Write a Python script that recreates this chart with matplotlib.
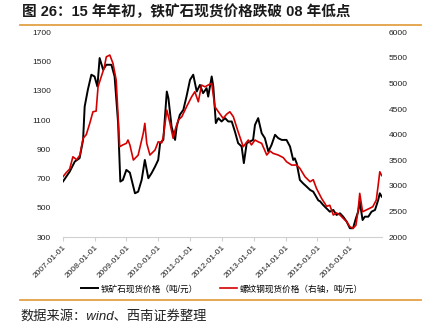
import matplotlib
matplotlib.use('Agg')
import matplotlib.pyplot as plt
from matplotlib.lines import Line2D

# ---------------- data ----------------
iron_t = [2007.01, 2007.22, 2007.38, 2007.53, 2007.64, 2007.69, 2007.79, 2007.90, 2008.00, 2008.09,
          2008.16, 2008.27, 2008.37, 2008.53, 2008.63, 2008.74, 2008.81, 2008.89, 2009.00, 2009.11,
          2009.27, 2009.37, 2009.48, 2009.58, 2009.69, 2009.79, 2009.90, 2010.00, 2010.06, 2010.16,
          2010.27, 2010.32, 2010.42, 2010.53, 2010.58, 2010.68, 2010.79, 2010.89, 2011.00, 2011.10,
          2011.21, 2011.31, 2011.41, 2011.52, 2011.57, 2011.68, 2011.73, 2011.81, 2011.89, 2011.99,
          2012.10, 2012.20, 2012.31, 2012.41, 2012.51, 2012.62, 2012.69, 2012.78, 2012.88, 2012.98,
          2013.04, 2013.14, 2013.25, 2013.35, 2013.46, 2013.56, 2013.67, 2013.77, 2013.88, 2014.03,
          2014.14, 2014.24, 2014.29, 2014.35, 2014.45, 2014.55, 2014.66, 2014.77, 2014.87, 2015.03,
          2015.08, 2015.18, 2015.29, 2015.39, 2015.50, 2015.60, 2015.71, 2015.81, 2015.92, 2016.02,
          2016.12, 2016.21, 2016.28, 2016.33, 2016.42, 2016.49, 2016.60, 2016.70, 2016.81, 2016.91,
          2016.96, 2017.02]
iron_v = [680, 747, 816, 839, 964, 1192, 1307, 1410, 1398, 1329,
          1524, 1444, 1478, 1478, 1398, 1081, 679, 690, 759, 740,
          599, 610, 690, 827, 702, 736, 781, 827, 942, 964,
          1295, 1250, 1055, 964, 1055, 1136, 1170, 1262, 1375, 1410,
          1295, 1340, 1284, 1318, 1260, 1398, 1330, 1079, 1113, 1090,
          1113, 1090, 1090, 1021, 942, 919, 805, 942, 953, 964,
          1067, 1113, 1010, 976, 884, 930, 999, 976, 964, 964,
          919, 827, 838, 804, 690, 667, 645, 622, 610, 550,
          545, 519, 495, 473, 485, 451, 462, 439, 405, 360,
          360, 428, 473, 542, 416, 439, 439, 473, 485, 553,
          599, 576]

rebar_t = [2007.01, 2007.10, 2007.22, 2007.32, 2007.44, 2007.54, 2007.64, 2007.74, 2007.85, 2007.95,
           2008.05, 2008.11, 2008.21, 2008.30, 2008.37, 2008.48, 2008.58, 2008.68, 2008.79, 2008.89,
           2009.00, 2009.05, 2009.11, 2009.22, 2009.37, 2009.53, 2009.58, 2009.64, 2009.74, 2009.90,
           2010.00, 2010.11, 2010.16, 2010.27, 2010.37, 2010.47, 2010.53, 2010.63, 2010.74, 2010.89,
           2011.05, 2011.15, 2011.26, 2011.36, 2011.47, 2011.57, 2011.68, 2011.78, 2011.89, 2012.04,
           2012.15, 2012.25, 2012.36, 2012.51, 2012.67, 2012.83, 2012.93, 2013.04, 2013.14, 2013.25,
           2013.41, 2013.51, 2013.61, 2013.77, 2013.93, 2014.03, 2014.19, 2014.35, 2014.45, 2014.61,
           2014.77, 2014.87, 2014.97, 2015.13, 2015.29, 2015.39, 2015.50, 2015.60, 2015.71, 2015.81,
           2015.92, 2016.02, 2016.12, 2016.21, 2016.28, 2016.33, 2016.42, 2016.53, 2016.64, 2016.74,
           2016.85, 2016.91, 2016.96, 2017.02]
rebar_v = [3178, 3250, 3330, 3568, 3510, 3600, 3928, 4000, 4221, 4447,
           4460, 4935, 5131, 5300, 5521, 5555, 5392, 5066, 3764, 3800,
           3830, 3895, 3800, 3504, 3600, 4025, 4221, 3830, 3602, 3700,
           3861, 3840, 3960, 4480, 4220, 3928, 4090, 4285, 4350, 4545,
           4740, 4838, 4643, 4969, 4935, 4969, 5002, 4545, 4447, 4318,
           4400, 4447, 4350, 4057, 3764, 3895, 3800, 3895, 3861, 3830,
           3602, 3680, 3634, 3602, 3550, 3471, 3406, 3406, 3342, 3178,
           3080, 3120, 2951, 2756, 2600, 2620, 2430, 2470, 2430, 2365,
           2300, 2201, 2170, 2230, 2527, 2853, 2494, 2527, 2560, 2592,
           2723, 3016, 3275, 3200]

year_ticks = list(range(2007, 2017))
year_labels = [f"{y}-01-01" for y in year_ticks]

title = "图 26：15 年年初，铁矿石现货价格跌破 08 年低点"
legend_labels = ["铁矿石现货价格（吨/元）", "螺纹钢现货价格（右轴，吨/元）"]
source = "数据来源：wind、西南证券整理"

# ---------------- plot ----------------
plt.rcParams['font.family'] = ['Liberation Sans', 'Noto Sans CJK SC', 'DejaVu Sans']

W, H = 435, 326
fig = plt.figure(figsize=(W / 100, H / 100), dpi=100)
ax = fig.add_axes([62.7 / W, 1 - 237 / H, (381.7 - 62.7) / W, (237 - 32.3) / H])
ax2 = ax.twinx()

l1, = ax.plot(iron_t, iron_v, color='black', lw=1.4)
l2, = ax2.plot(rebar_t, rebar_v, color='#d40000', lw=1.2)

ax.set_xlim(2007.0, 2017.02)
ax.set_ylim(300, 1700)
ax.set_yticks(range(300, 1701, 200))
ax2.set_ylim(2000, 6000)
ax2.set_yticks(range(2000, 6001, 500))

ax.set_xticks(year_ticks)
ax.set_xticklabels(year_labels, rotation=45, ha='right', rotation_mode='anchor', fontsize=6, color='#222222')

for a in (ax, ax2):
    for s in ('top', 'left', 'right'):
        a.spines[s].set_visible(False)
    a.spines['bottom'].set_color('#d0d0d0')
    a.spines['bottom'].set_linewidth(0.8)
ax2.spines['bottom'].set_visible(False)

ax.tick_params(axis='y', length=0, pad=8.4, labelsize=6, labelcolor='#222222')
ax2.tick_params(axis='y', length=0, pad=5.3, labelsize=6, labelcolor='#222222')
ax.tick_params(axis='x', length=3, width=0.8, color='#d0d0d0', pad=2)

fig.legend([l1, l2], legend_labels, loc='center', bbox_to_anchor=(0.51, 1 - 289 / H), ncol=2,
           frameon=False, fontsize=6.2, handlelength=2, columnspacing=2.6, handletextpad=0.3)

fig.text(22 / W, 1 - 12 / H, title, fontsize=10.5, fontweight='bold', va='center', ha='left', color='#1a1a1a')
fig.text(20 / W, 1 - 316 / H, source, fontsize=9.5, style='italic', va='center', ha='left', color='#222222')

orange = '#E3A144'
fig.add_artist(Line2D([20 / W, 421 / W], [1 - 25 / H] * 2, color=orange, lw=1.3))
fig.add_artist(Line2D([20 / W, 421 / W], [1 - 300 / H] * 2, color=orange, lw=1.3))

fig.savefig('out.png', dpi=100)
